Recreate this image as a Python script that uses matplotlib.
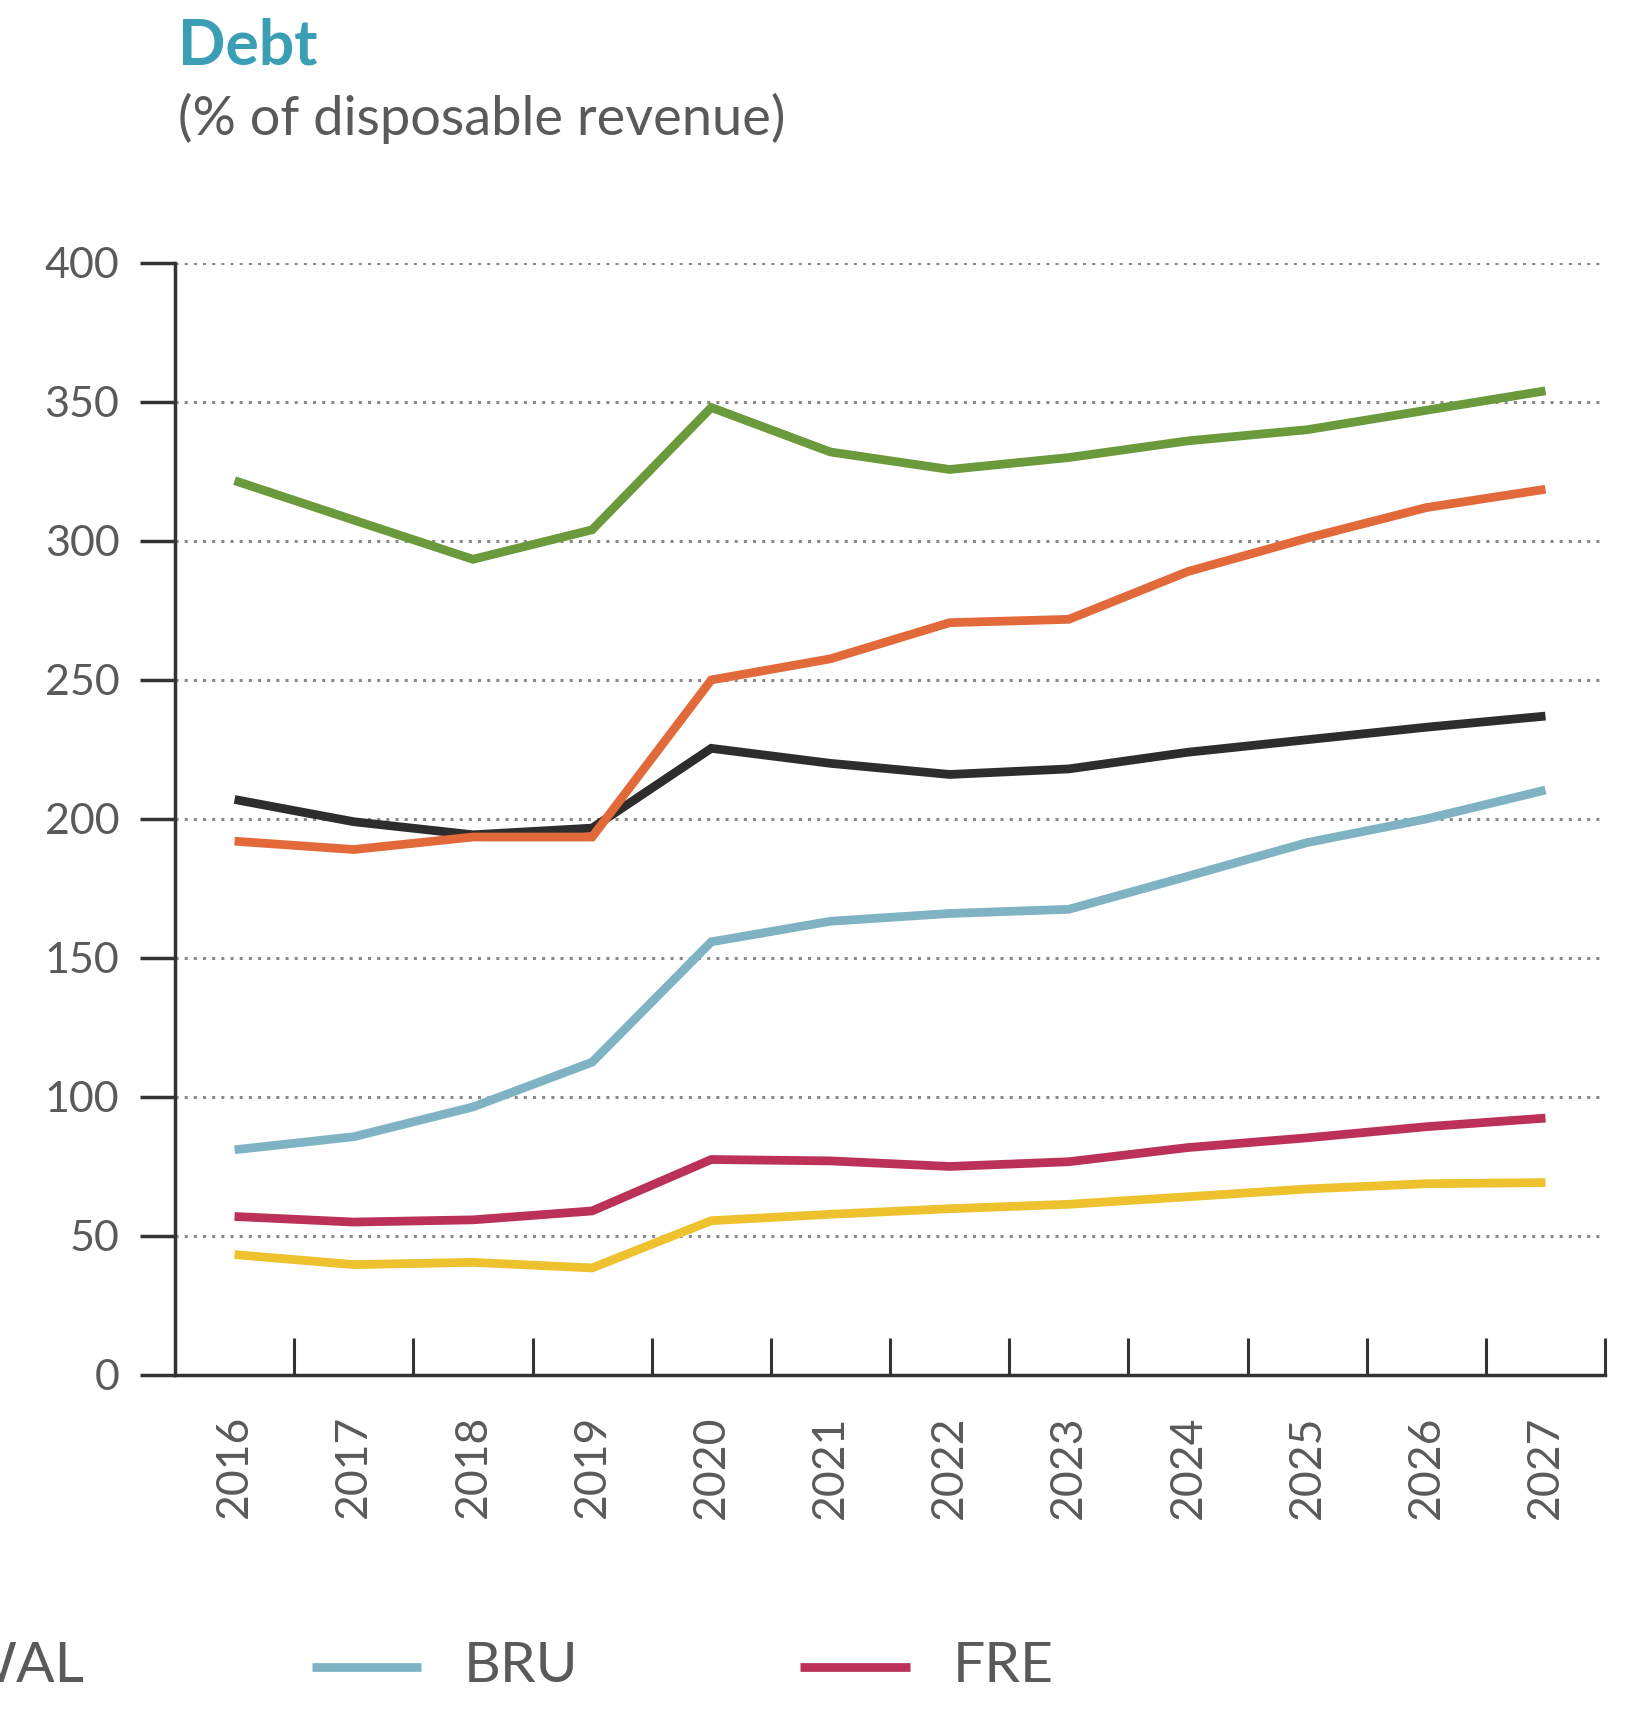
import matplotlib.pyplot as plt
from matplotlib.lines import Line2D
import numpy as np

plt.rcParams["font.family"] = ["Lato", "DejaVu Sans"]

# ====== data ======
years = ["2016", "2017", "2018", "2019", "2020", "2021",
         "2022", "2023", "2024", "2025", "2026", "2027"]

green = [321.7, 307.5, 293.4, 304.0, 348.0, 332.0, 325.7, 330.0, 336.0, 340.0, 347.0, 354.0]
wal = [192.0, 189.0, 193.5, 193.5, 250.0, 257.6, 270.6, 271.8, 289.0, 301.0, 312.0, 318.6]
black = [207.0, 199.0, 194.3, 196.7, 225.4, 220.0, 216.0, 218.0, 224.0, 228.5, 233.0, 237.0]
bru = [81.0, 85.7, 96.4, 112.5, 155.8, 163.2, 166.0, 167.5, 179.4, 191.5, 200.0, 210.4]
fre = [57.0, 55.0, 55.8, 59.0, 77.5, 77.0, 75.0, 76.7, 81.8, 85.3, 89.3, 92.4]
yellow = [43.3, 39.7, 40.5, 38.5, 55.5, 57.8, 59.8, 61.4, 64.1, 66.9, 68.8, 69.2]

yticks = [0, 50, 100, 150, 200, 250, 300, 350, 400]

# ====== colours ======
c_green = "#6b9a3c"
c_wal = "#e2693a"
c_black = "#2d2d2d"
c_bru = "#7fb3c3"
c_fre = "#bb3158"
c_yellow = "#eec12e"
c_axis = "#333333"
c_text = "#5a5a5a"
c_title = "#3a9fb5"

fig = plt.figure(figsize=(16.4, 17.14), dpi=100)
ax = fig.add_axes([0.1067, 0.1978, 0.872, 0.6488])

x = np.arange(len(years))
lw = 6.3
for vals, col in [(green, c_green), (black, c_black), (wal, c_wal),
                  (bru, c_bru), (fre, c_fre), (yellow, c_yellow)]:
    ax.plot(x, vals, color=col, linewidth=lw, solid_joinstyle="miter",
            solid_capstyle="butt", zorder=3)

ax.set_xlim(-0.5, len(years) - 0.5)
ax.set_ylim(0, 400)

# y axis
ax.set_yticks(yticks)
ax.set_yticklabels([str(v) for v in yticks], fontsize=31, color=c_text)
ax.tick_params(axis="y", direction="out", length=25, width=2.5,
               color=c_axis, pad=15)
ax.yaxis.grid(True, linestyle=(0, (1, 2.0)), color="#8a8a8a", linewidth=2.2)
ax.set_axisbelow(True)

# x axis: labels at centres, ticks at category boundaries
ax.set_xticks(x)
ax.set_xticklabels(years, rotation=90, fontsize=32, color=c_text)
ax.tick_params(axis="x", which="major", length=0, pad=29)
ax.set_xticks(np.arange(0.5, len(years)), minor=True)
ax.tick_params(axis="x", which="minor", direction="in", length=27,
               width=2.2, color=c_axis)

for s in ["top", "right"]:
    ax.spines[s].set_visible(False)
for s in ["left", "bottom"]:
    ax.spines[s].set_linewidth(2.5)
    ax.spines[s].set_color(c_axis)
ax.spines["bottom"].set_zorder(4)

# titles
fig.text(0.1085, 0.9726, "Debt", fontsize=45, fontweight="bold",
         color=c_title, ha="left", va="center")
fig.text(0.1085, 0.931, "(% of disposable revenue)", fontsize=39,
         color=c_text, ha="left", va="center")

# legend (cropped at left edge like the source)
legend_items = [("WAL", c_wal, -0.119), ("BRU", c_bru, 0.190), ("FRE", c_fre, 0.488)]
ly = 1 - 1667 / 1714
for name, col, x0 in legend_items:
    fig.add_artist(Line2D([x0, x0 + 0.067], [ly, ly], color=col,
                          linewidth=lw, solid_capstyle="butt",
                          transform=fig.transFigure))
    fig.text(x0 + 0.093, ly, name, fontsize=41, color=c_text,
             ha="left", va="center")

fig.savefig("out.png", dpi=100, facecolor="white")
plt.close(fig)
